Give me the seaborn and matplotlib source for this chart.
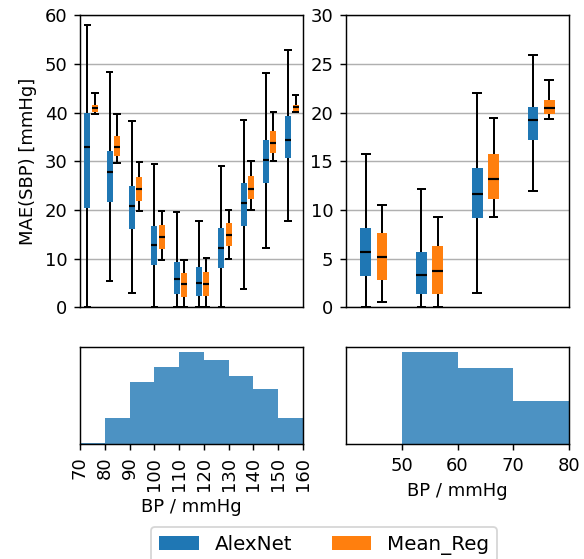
import numpy as np
import pandas as pd
import matplotlib
matplotlib.use("Agg")
import matplotlib.pyplot as plt
from matplotlib.patches import Patch
import seaborn as sns

# ---- data -----------------------------------------------------------------
# Five-number summaries per BP bin: [min, q1, median, q3, max]
sbp_bins = [70, 80, 90, 100, 110, 120, 130, 140, 150, 160]
sbp_alexnet = [
    [0.0, 20.4, 33.0, 40.0, 58.0],
    [5.5, 21.6, 27.7, 32.2, 48.4],
    [2.9, 16.0, 20.8, 24.9, 38.3],
    [0.0, 8.6, 12.7, 16.8, 29.5],
    [0.0, 2.7, 5.8, 9.3, 19.6],
    [0.0, 2.4, 5.0, 8.3, 17.7],
    [0.0, 8.0, 12.2, 16.3, 29.1],
    [3.8, 16.8, 21.4, 25.5, 38.5],
    [12.2, 25.5, 30.3, 34.4, 48.1],
    [17.8, 30.6, 34.4, 39.4, 52.9],
]
sbp_meanreg = [
    [39.7, 40.2, 40.9, 41.6, 44.0],
    [29.7, 31.0, 32.9, 35.2, 39.7],
    [19.7, 21.9, 24.3, 26.8, 29.8],
    [9.7, 12.0, 14.4, 16.9, 19.7],
    [0.0, 2.2, 4.8, 7.0, 9.7],
    [0.1, 2.4, 4.85, 7.3, 10.1],
    [10.0, 12.5, 14.8, 17.4, 20.0],
    [20.0, 22.2, 24.4, 27.0, 30.0],
    [30.0, 31.8, 33.8, 36.2, 40.1],
    [40.1, 40.4, 41.1, 41.6, 43.6],
]

dbp_bins = [40, 50, 60, 70]
dbp_alexnet = [
    [0.0, 3.2, 5.65, 8.15, 15.8],
    [0.0, 1.4, 3.3, 5.7, 12.2],
    [1.5, 9.2, 11.6, 14.3, 22.0],
    [11.9, 17.2, 19.2, 20.6, 25.9],
]
dbp_meanreg = [
    [0.5, 2.8, 5.17, 7.6, 10.5],
    [0.0, 1.37, 3.76, 6.3, 9.3],
    [9.3, 11.1, 13.2, 15.8, 19.4],
    [19.35, 19.9, 20.5, 21.3, 23.4],
]

# BP distribution (relative counts per 10 mmHg bin)
sbp_hist_edges = [70, 80, 90, 100, 110, 120, 130, 140, 150, 160]
sbp_hist_counts = [3, 78, 187, 233, 277, 253, 204, 164, 79]
dbp_hist_edges = [40, 50, 60, 70, 80]
dbp_hist_counts = [0, 277, 228, 130]

models = ["AlexNet", "Mean_Reg"]
palette = {"AlexNet": "#1f77b4", "Mean_Reg": "#ff7f0e"}


def long_form(bins, alex, mreg):
    rows = []
    for b, a, m in zip(bins, alex, mreg):
        for v in a:
            rows.append((b, "AlexNet", v))
        for v in m:
            rows.append((b, "Mean_Reg", v))
    return pd.DataFrame(rows, columns=["bin", "model", "mae"])


sbp_df = long_form(sbp_bins, sbp_alexnet, sbp_meanreg)
dbp_df = long_form(dbp_bins, dbp_alexnet, dbp_meanreg)

# ---- figure ---------------------------------------------------------------
plt.rcParams.update({"font.size": 10, "font.family": ["DejaVu Sans"]})
DPI = 130
W, H = 584, 559
fig = plt.figure(figsize=(W / DPI, H / DPI), dpi=DPI)


def px_axes(x0, y0, x1, y1):
    return fig.add_axes([x0 / W, 1 - y1 / H, (x1 - x0) / W, (y1 - y0) / H])


ax_sbp = px_axes(80, 15.3, 303, 307.3)
ax_dbp = px_axes(346, 15.3, 569, 307.3)
ax_hs = px_axes(80, 347.3, 303, 444)
ax_hd = px_axes(346, 347.3, 569, 444)

line_kw = dict(color="black", linewidth=1.1)


def draw_boxes(ax, df, order, width, gap, capw):
    sns.boxplot(
        data=df, x="bin", y="mae", hue="model", order=order,
        hue_order=models, palette=palette, saturation=1,
        whis=(0, 100), width=width, gap=gap, linecolor="black",
        boxprops=dict(edgecolor="none", linewidth=0),
        whiskerprops=line_kw, capprops=line_kw,
        medianprops=dict(color="black", linewidth=1.2),
        capwidths=capw, legend=False, ax=ax,
    )
    ax.set_xticks([])
    ax.set_xlabel("")
    ax.set_ylabel("")
    ax.set_axisbelow(True)
    ax.yaxis.grid(True, color="#b0b0b0", linewidth=0.8)


draw_boxes(ax_sbp, sbp_df, sbp_bins, 0.66, 0.18, 0.24)
ax_sbp.set_ylim(0, 60)
ax_sbp.set_yticks(np.arange(0, 61, 10))
ax_sbp.set_ylabel("MAE(SBP) [mmHg]")

draw_boxes(ax_dbp, dbp_df, dbp_bins, 0.586, 0.35, 0.14)
ax_dbp.set_ylim(0, 30)
ax_dbp.set_yticks(np.arange(0, 31, 5))


def draw_hist(ax, edges, counts, ticks, rotate):
    centers = [(a + b) / 2 for a, b in zip(edges[:-1], edges[1:])]
    sns.histplot(
        x=centers, weights=counts, bins=edges, element="step", fill=True,
        color="#1f77b4", alpha=0.8, linewidth=0, ax=ax,
    )
    ax.set_yticks([])
    ax.set_ylabel("")
    ax.set_xticks(ticks)
    ax.set_xlabel("BP / mmHg")
    if rotate:
        ax.tick_params(axis="x", labelrotation=90)


draw_hist(ax_hs, sbp_hist_edges, sbp_hist_counts, list(range(70, 161, 10)), True)
ax_hs.set_xlim(70, 160)
draw_hist(ax_hd, dbp_hist_edges, dbp_hist_counts, [50, 60, 70, 80], False)
ax_hd.set_xlim(40, 80)

handles = [Patch(facecolor=palette[m], edgecolor="none") for m in models]
fig.legend(
    handles, models, loc="upper center", ncol=2, fontsize=11,
    bbox_to_anchor=(324 / W, 1 - 527.3 / H), borderaxespad=0,
)

fig.savefig("out.png", dpi=DPI)
